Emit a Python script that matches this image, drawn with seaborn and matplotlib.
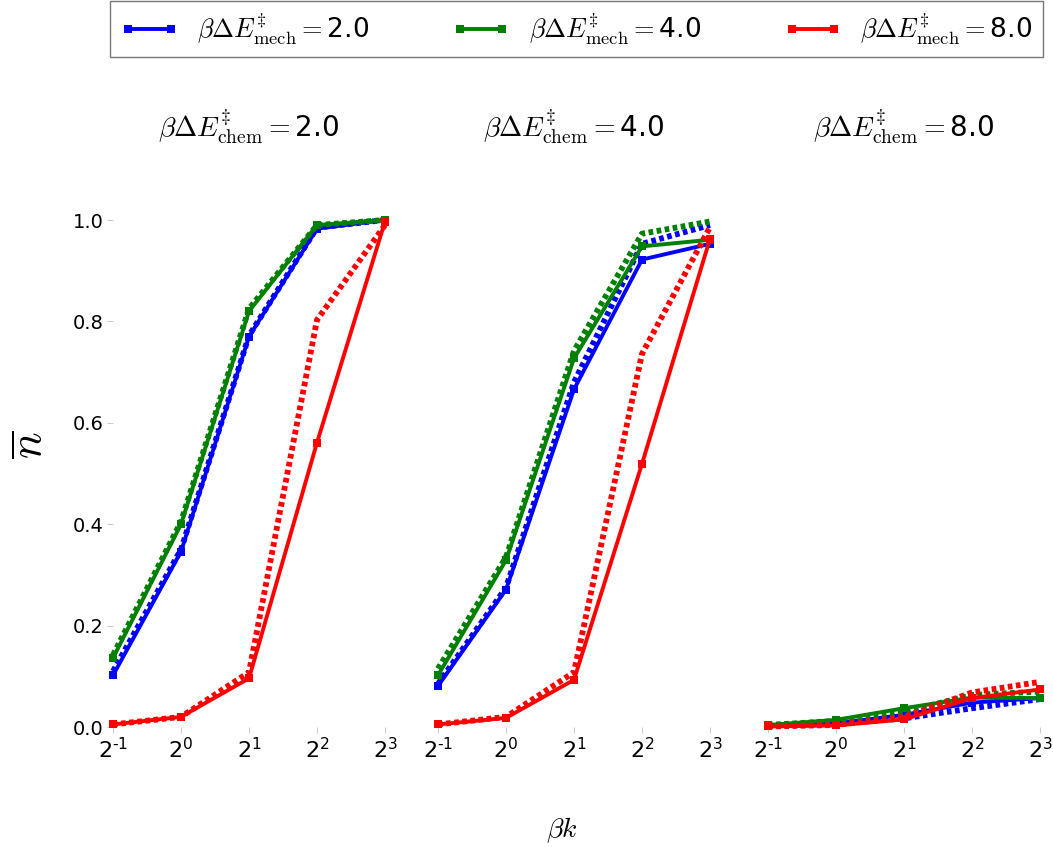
import numpy as np
import pandas as pd
import matplotlib
matplotlib.use("Agg")
import matplotlib.pyplot as plt
from matplotlib.lines import Line2D
import seaborn as sns

# spring constant beta*k (log2 axis)
beta_k = [0.5, 1.0, 2.0, 4.0, 8.0]
chem_barriers = ["2.0", "4.0", "8.0"]
mech_barriers = ["2.0", "4.0", "8.0"]

# mean occupation n-bar, solid = model, dotted = reference curve
# panel chem=2.0
c2_m2_solid = [0.102, 0.346, 0.770, 0.983, 1.000]
c2_m4_solid = [0.136, 0.400, 0.820, 0.990, 1.000]
c2_m8_solid = [0.005, 0.020, 0.096, 0.561, 0.997]
c2_m2_dot = [0.110, 0.350, 0.772, 0.985, 1.000]
c2_m4_dot = [0.142, 0.405, 0.825, 0.990, 1.000]
c2_m8_dot = [0.005, 0.020, 0.108, 0.803, 0.990]
# panel chem=4.0
c4_m2_solid = [0.081, 0.271, 0.666, 0.922, 0.953]
c4_m4_solid = [0.102, 0.329, 0.727, 0.948, 0.961]
c4_m8_solid = [0.005, 0.018, 0.093, 0.519, 0.963]
c4_m2_dot = [0.085, 0.275, 0.680, 0.953, 0.990]
c4_m4_dot = [0.115, 0.335, 0.742, 0.973, 0.997]
c4_m8_dot = [0.005, 0.020, 0.108, 0.736, 0.986]
# panel chem=8.0
c8_m2_solid = [0.002, 0.007, 0.024, 0.048, 0.057]
c8_m4_solid = [0.004, 0.014, 0.037, 0.058, 0.057]
c8_m8_solid = [0.001, 0.003, 0.015, 0.057, 0.074]
c8_m2_dot = [0.002, 0.006, 0.017, 0.037, 0.055]
c8_m4_dot = [0.004, 0.012, 0.030, 0.063, 0.070]
c8_m8_dot = [0.001, 0.004, 0.020, 0.068, 0.089]

panels = [
    (c2_m2_solid, c2_m4_solid, c2_m8_solid, c2_m2_dot, c2_m4_dot, c2_m8_dot),
    (c4_m2_solid, c4_m4_solid, c4_m8_solid, c4_m2_dot, c4_m4_dot, c4_m8_dot),
    (c8_m2_solid, c8_m4_solid, c8_m8_solid, c8_m2_dot, c8_m4_dot, c8_m8_dot),
]
colors = ["#0000ff", "#008000", "#ff0000"]
xtick_labels = ["$\\mathdefault{2^{\u2010" + "1}}$", r"$\mathdefault{2^{0}}$",
                r"$\mathdefault{2^{1}}$", r"$\mathdefault{2^{2}}$", r"$\mathdefault{2^{3}}$"]
ytick_vals = [0.0, 0.2, 0.4, 0.6, 0.8, 1.0]

sns.set_style("white")
plt.rcParams["mathtext.fontset"] = "cm"
plt.rcParams["font.family"] = ["DejaVu Sans"]
plt.rcParams["text.color"] = "black"
plt.rcParams["xtick.color"] = "black"
plt.rcParams["ytick.color"] = "black"

W, H = 1053, 847
fig = plt.figure(figsize=(W / 100, H / 100), dpi=100)

lefts = [113, 438, 768]
pw = 272
bottom_px, top_px = 727, 220
dot_style = (0, (0.8, 0.6))

for i, (left, series) in enumerate(zip(lefts, panels)):
    ax = fig.add_axes([left / W, 1 - bottom_px / H, pw / W, (bottom_px - top_px) / H])
    solids, dots = series[:3], series[3:]
    for j in range(3):
        df = pd.DataFrame({"k": beta_k, "n": dots[j]})
        sns.lineplot(data=df, x="k", y="n", ax=ax, color=colors[j], linestyle=dot_style,
                     linewidth=4.2, clip_on=False, zorder=3 + j)
    for j in range(3):
        df = pd.DataFrame({"k": beta_k, "n": solids[j]})
        sns.lineplot(data=df, x="k", y="n", ax=ax, color=colors[j], linestyle="-",
                     linewidth=2.8, marker="s", markersize=6, markeredgewidth=0,
                     clip_on=False, zorder=3 + j)
    ax.set_xscale("log", base=2)
    ax.set_xlim(0.5, 8.0)
    ax.set_ylim(0.0, 1.0)
    ax.set_xticks(beta_k)
    ax.set_xticklabels(xtick_labels, fontsize=16)
    ax.minorticks_off()
    if i == 0:
        ax.set_yticks(ytick_vals)
        ax.set_yticklabels([f"{v:.1f}" for v in ytick_vals], fontsize=14)
    else:
        ax.set_yticks([])
    ax.tick_params(axis="both", which="major", length=4, color="#cccccc",
                   labelcolor="black", left=(i == 0), bottom=True, pad=3)
    ax.set_xlabel("")
    ax.set_ylabel("")
    for s in ax.spines.values():
        s.set_visible(False)
    ax.set_title(r"$\beta\Delta E^{\ddagger}_{\mathrm{chem}}=$" + chem_barriers[i],
                 fontsize=20, pad=60, color="black")

fig.text(30 / W, 1 - 445 / H, r"$\overline{n}$", fontsize=32, rotation=90,
         ha="center", va="center")
fig.text(562 / W, 1 - 830 / H, r"$\beta k$", fontsize=20, ha="center", va="center")

handles = [Line2D([], [], color=c, linewidth=2.8, marker="s", markersize=6,
                  markeredgewidth=0) for c in colors]
labels = [r"$\beta\Delta E^{\ddagger}_{\mathrm{mech}}=$" + m for m in mech_barriers]
leg = fig.legend(handles, labels, loc="center", ncol=3, mode="expand",
                 bbox_to_anchor=(110 / W, 1 - 57 / H, 933 / W, 56 / H),
                 fontsize=19, numpoints=2, handlelength=2.2, handletextpad=0.7,
                 frameon=True, fancybox=False, borderaxespad=0)
leg.get_frame().set_edgecolor("#555555")
leg.get_frame().set_linewidth(1.0)

fig.savefig("out.png", dpi=100)
